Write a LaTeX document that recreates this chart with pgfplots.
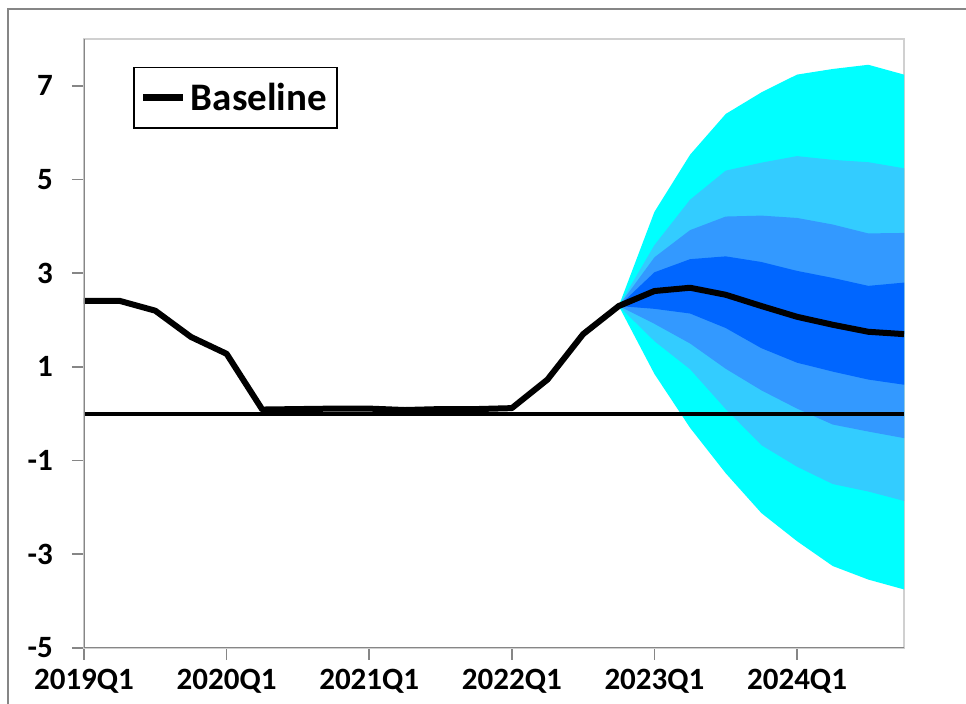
\documentclass[border=0pt]{standalone}
\usepackage{fontspec}
\setmainfont{Carlito}
\usepackage{pgfplots}
\pgfplotsset{compat=1.18}
\definecolor{bandA}{HTML}{00FFFF}
\definecolor{bandB}{HTML}{33CCFF}
\definecolor{bandC}{HTML}{3399FF}
\definecolor{bandD}{HTML}{0066FF}
\definecolor{axgray}{HTML}{868686}
\definecolor{boxgray}{HTML}{D0D0D0}
\begin{document}
\begin{tikzpicture}
\useasboundingbox (0,0) rectangle (483pt,352pt);
\draw[color=axgray, line width=1.2pt] (4pt,0) -- (4pt,347.5pt) -- (483pt,347.5pt);
\begin{axis}[
  at={(42pt,28pt)}, anchor=south west,
  scale only axis, width=410pt, height=304.5pt,
  xmin=0, xmax=23, ymin=-5, ymax=8,
  xtick={0,4,8,12,16,20},
  xticklabels={2019Q1,2020Q1,2021Q1,2022Q1,2023Q1,2024Q1},
  ytick={-5,-3,-1,1,3,5,7},
  yticklabels={-5,-3,-1,1,3,5,7},
  tick pos=left, tick align=outside, major tick length=6pt,
  tick style={color=axgray, line width=0.8pt},
  axis line style={draw=boxgray, line width=0.8pt},
  ticklabel style={font=\bfseries\fontsize{15.5}{18}\selectfont, text=black},
  yticklabel style={xshift=-6pt},
  xticklabel style={yshift=-1pt},
  legend style={at={(0.06,0.954)}, anchor=north west, draw=black, line width=0.7pt,
    font=\bfseries\fontsize{19.5}{22}\selectfont, inner xsep=3pt, inner ysep=5.5pt},
  legend image code/.code={\draw[line width=3.5pt] (0pt,0pt) -- (20pt,0pt);},
  clip=true,
]
% outer band
\addplot[fill=bandA, draw=none, forget plot] coordinates {
 (15,2.30) (16,4.31) (17,5.53) (18,6.40) (19,6.86) (20,7.24) (21,7.36) (22,7.45) (23,7.24)
 (23,-3.75) (22,-3.54) (21,-3.25) (20,-2.72) (19,-2.12) (18,-1.27) (17,-0.30) (16,0.85)
} -- cycle;
\addplot[fill=bandB, draw=none, forget plot] coordinates {
 (15,2.30) (16,3.60) (17,4.57) (18,5.19) (19,5.36) (20,5.50) (21,5.42) (22,5.37) (23,5.24)
 (23,-1.86) (22,-1.66) (21,-1.50) (20,-1.13) (19,-0.67) (18,0.10) (17,0.95) (16,1.55)
} -- cycle;
\addplot[fill=bandC, draw=none, forget plot] coordinates {
 (15,2.30) (16,3.34) (17,3.92) (18,4.21) (19,4.23) (20,4.18) (21,4.04) (22,3.85) (23,3.86)
 (23,-0.52) (22,-0.38) (21,-0.23) (20,0.11) (19,0.50) (18,0.96) (17,1.50) (16,1.92)
} -- cycle;
\addplot[fill=bandD, draw=none, forget plot] coordinates {
 (15,2.30) (16,3.02) (17,3.30) (18,3.36) (19,3.24) (20,3.05) (21,2.90) (22,2.73) (23,2.80)
 (23,0.62) (22,0.73) (21,0.90) (20,1.09) (19,1.40) (18,1.83) (17,2.14) (16,2.24)
} -- cycle;
% zero line
\addplot[black, line width=2pt, forget plot] coordinates {(0,0) (23,0)};
% baseline
\addplot[black, line width=3pt, line join=round] coordinates {
 (0,2.41) (1,2.41) (2,2.20) (3,1.64) (4,1.28) (5,0.09) (6,0.10) (7,0.11)
 (8,0.11) (9,0.08) (10,0.10) (11,0.10) (12,0.12) (13,0.73) (14,1.70) (15,2.30)
 (16,2.62) (17,2.69) (18,2.54) (19,2.30) (20,2.07) (21,1.90) (22,1.75) (23,1.70)
};
\addlegendentry{Baseline}
\draw[color=axgray, line width=1pt] (rel axis cs:0,1) -- (rel axis cs:0,0) -- (rel axis cs:1,0);
\end{axis}
\end{tikzpicture}
\end{document}
